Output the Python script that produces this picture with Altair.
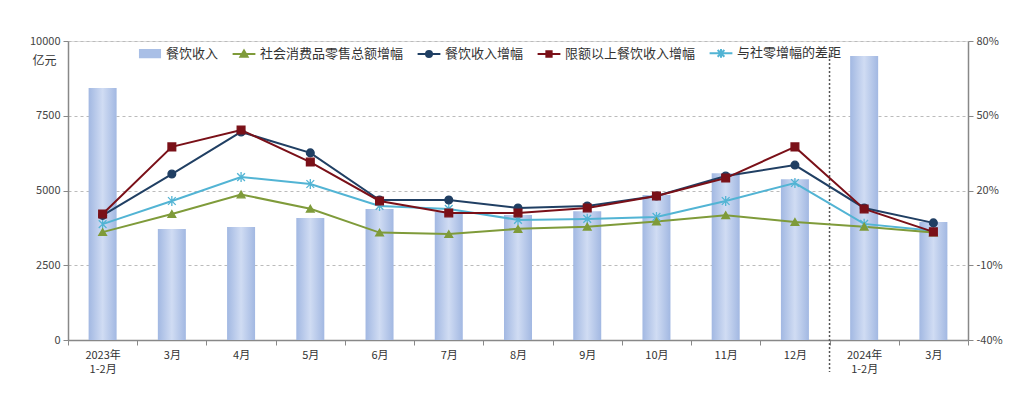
import altair as alt
import pandas as pd

FONT = "Noto Sans CJK SC"

periods = ["2023年1-2月", "2023年3月", "2023年4月", "2023年5月", "2023年6月", "2023年7月",
           "2023年8月", "2023年9月", "2023年10月", "2023年11月", "2023年12月",
           "2024年1-2月", "2024年3月"]
revenue = [8430, 3710, 3780, 4080, 4380, 4280, 4180, 4310, 4850, 5580, 5380, 9500, 3950]
retail_growth = [3.3, 10.6, 18.4, 12.7, 3.1, 2.5, 4.6, 5.5, 7.6, 10.1, 7.4, 5.5, 3.1]
catering_growth = [10.0, 26.6, 43.5, 35.1, 16.2, 16.2, 13.0, 13.8, 17.8, 25.8, 30.2, 13.0, 7.0]
above_quota_growth = [10.6, 37.5, 44.3, 31.4, 15.8, 11.0, 11.0, 13.0, 17.8, 25.0, 37.5, 12.6, 3.4]
gap_growth = [6.5, 15.8, 25.4, 22.6, 13.8, 12.6, 8.2, 8.6, 9.4, 15.8, 23.0, 6.6, 3.8]

bar_name = "餐饮收入"
series_names = ["与社零增幅的差距", "社会消费品零售总额增幅", "餐饮收入增幅", "限额以上餐饮收入增幅"]
series_colors = ["#52b4d4", "#7f9b3a", "#203f63", "#7a1018"]
series_values = [gap_growth, retail_growth, catering_growth, above_quota_growth]
marker_shapes = ["M-1,-1L1,1M-1,1L1,-1M0,-1.3V1.3", "triangle-up", "circle", "square"]

legend_names = [bar_name, "社会消费品零售总额增幅", "餐饮收入增幅", "限额以上餐饮收入增幅", "与社零增幅的差距"]
legend_colors = ["#a9bfe6", "#7f9b3a", "#203f63", "#7a1018", "#52b4d4"]
legend_shapes = [
    "M-0.92,-0.3H0.92M-0.92,-0.15H0.92M-0.92,0H0.92M-0.92,0.15H0.92M-0.92,0.3H0.92",
    "M-0.95,0H0.95M0,-0.3L0.3,0.22H-0.3ZM0,-0.12L0.12,0.1H-0.12Z",
    "M-0.95,0H0.95M0.25,0A0.25,0.25,0,1,1,-0.25,0A0.25,0.25,0,1,1,0.25,0Z"
    "M0.1,0A0.1,0.1,0,1,1,-0.1,0A0.1,0.1,0,1,1,0.1,0Z",
    "M-0.95,0H0.95M-0.22,-0.22H0.22V0.22H-0.22ZM-0.08,-0.08H0.08V0.08H-0.08Z",
    "M-0.95,0H0.95M-0.28,-0.28L0.28,0.28M-0.28,0.28L0.28,-0.28M0,-0.36V0.36",
]

bar_df = pd.DataFrame({"period": periods, "revenue": revenue})
rows = []
for name, vals in zip(series_names, series_values):
    for p, v in zip(periods, vals):
        rows.append({"period": p, "series": name, "growth": v})
line_df = pd.DataFrame(rows)
legend_df = pd.DataFrame({"period": [periods[0]] * len(legend_names),
                          "series": legend_names, "growth": [0] * len(legend_names)})
rule_df = pd.DataFrame({"period": ["2024年1-2月"], "top": [9530], "bottom": [-1070]})

label_expr = ("!isString(datum.value) ? '' : (indexof(datum.value, '1-2月') > 0 ? "
              "[slice(datum.value, 0, 5), '1-2月'] : slice(datum.value, 5))")

x_scale = alt.Scale(domain=periods, paddingInner=0, paddingOuter=0)
x_axis = alt.Axis(title=None, labelExpr=label_expr, labelAngle=0, labelFontSize=11,
                  labelColor="#333", labelFont=FONT, domainColor="#888", domainWidth=1.5,
                  tickColor="#888", tickBand="extent", tickSize=5, labelPadding=4,
                  labelLineHeight=14, grid=False)
x = alt.X("period:N", scale=x_scale, axis=x_axis)

left_axis = alt.Axis(values=[0, 2500, 5000, 7500, 10000], format="d", title="亿元",
                     titleAngle=0, titleX=-24, titleY=19, titleAlign="center",
                     titleBaseline="middle", titleFontSize=12, titleFontWeight="normal",
                     titleColor="#333", titleFont=FONT, grid=True, gridDash=[3, 3],
                     gridColor="#bbb", domainColor="#888", domainWidth=1.5, tickColor="#888",
                     tickSize=5, labelFontSize=11, labelColor="#444", labelFont=FONT,
                     labelPadding=3)
left_scale = alt.Scale(domain=[0, 10000], nice=False)

right_axis = alt.Axis(orient="right", values=[-40, -10, 20, 50, 80],
                      labelExpr="datum.value + '%'", title=None, grid=False,
                      domainColor="#888", domainWidth=1.5, tickColor="#888", tickSize=5,
                      labelFontSize=11, labelColor="#444", labelFont=FONT, labelPadding=3)
right_scale = alt.Scale(domain=[-40, 80], nice=False)

gradient = alt.Gradient(
    gradient="linear",
    stops=[alt.GradientStop(color="#a2b8e2", offset=0),
           alt.GradientStop(color="#d0dcf3", offset=0.5),
           alt.GradientStop(color="#a2b8e2", offset=1)],
    x1=0, x2=1, y1=0, y2=0,
)

bars = alt.Chart(bar_df).mark_bar(size=28, color=gradient).encode(
    x=x,
    y=alt.Y("revenue:Q", scale=left_scale, axis=left_axis),
)

rule = alt.Chart(rule_df).mark_rule(strokeDash=[2, 2], color="#555", strokeWidth=1.5).encode(
    x=alt.X("period:N", scale=x_scale, axis=x_axis, bandPosition=0),
    y=alt.Y("top:Q", scale=left_scale, axis=None),
    y2="bottom:Q",
)

lines = alt.Chart(line_df).mark_line(strokeWidth=2).encode(
    x=x,
    y=alt.Y("growth:Q", scale=right_scale, axis=right_axis),
    color=alt.Color("series:N", scale=alt.Scale(domain=series_names, range=series_colors),
                    legend=None),
)

points = alt.Chart(line_df).mark_point(filled=True, size=60, strokeWidth=1.3, opacity=1).encode(
    x=x,
    y=alt.Y("growth:Q", scale=right_scale, axis=None),
    fill=alt.Fill("series:N", scale=alt.Scale(domain=series_names, range=series_colors),
                  legend=None),
    stroke=alt.Stroke("series:N", scale=alt.Scale(domain=series_names, range=series_colors),
                      legend=None),
    shape=alt.Shape("series:N", scale=alt.Scale(domain=series_names, range=marker_shapes),
                    legend=None),
)

leg = alt.Legend(orient="none", legendX=69, legendY=-1, direction="horizontal", title=None,
                 symbolSize=576, symbolStrokeWidth=2, labelFontSize=13, labelFont=FONT,
                 labelColor="#333", labelOffset=3, columnPadding=9, padding=0)

legend_layer = alt.Chart(legend_df).mark_point(filled=True, opacity=0).encode(
    x=x,
    y=alt.Y("growth:Q", scale=right_scale, axis=None),
    fill=alt.Fill("series:N", scale=alt.Scale(domain=legend_names, range=legend_colors),
                  legend=leg),
    stroke=alt.Stroke("series:N", scale=alt.Scale(domain=legend_names, range=legend_colors),
                      legend=leg),
    shape=alt.Shape("series:N", scale=alt.Scale(domain=legend_names, range=legend_shapes),
                    legend=leg),
)

chart = alt.layer(bars, rule, lines, points, legend_layer).resolve_scale(
    y="independent", fill="independent", stroke="independent", shape="independent",
).properties(
    width=900, height=299,
    autosize=alt.AutoSizeParams(type="none"),
    padding={"left": 60, "top": 33, "right": 47, "bottom": 46},
).configure_view(stroke=None).configure(font=FONT)

chart.save("out.html", embed_options={"renderer": "svg", "actions": False})
